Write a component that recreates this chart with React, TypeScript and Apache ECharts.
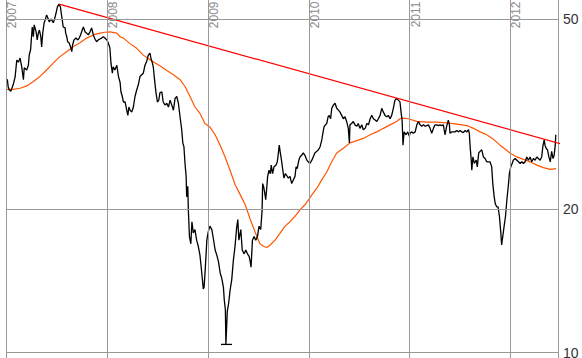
import React, { useEffect, useRef } from "react";
import * as echarts from "echarts";

// Day offsets are counted from 2007-01-01
const START = Date.UTC(2007, 0, 1);
const DAY = 86400000;
const AXIS_END_DAY = 1998;

const yearLabels = ["2007", "2008", "2009", "2010", "2011", "2012"];
const priceLevels = [50, 20, 10];

const priceDays = [
  0, 5, 8, 12, 18, 22, 26, 33, 39, 45,
  51, 57, 63, 66, 75, 81, 84, 89, 95, 99,
  102, 109, 113, 117, 121, 126, 129, 133, 138, 142,
  147, 153, 157, 162, 167, 171, 175, 181, 186, 192,
  197, 200, 205, 207, 214, 216, 220, 223, 228, 234,
  238, 241, 246, 253, 260, 265, 270, 276, 280, 286,
  292, 298, 304, 310, 316, 322, 328, 334, 340, 346,
  352, 358, 365, 370, 376,
  380, 385, 388, 394, 401, 407, 413, 416, 421, 425,
  431, 437, 441, 445, 449, 455, 461, 467, 473, 479,
  485, 491, 497, 503, 509, 515, 521, 525, 530, 533,
  539, 543, 548, 553, 557, 564, 569, 576, 582, 588,
  594, 600, 606, 612, 618, 624, 630, 636, 640, 644,
  648, 652, 654, 658, 660, 664, 669, 673, 678, 684,
  690, 696, 702, 706, 711, 714, 717, 721, 727, 732,
  738,
  745, 750, 757, 763, 769, 775, 781, 787, 790, 794,
  796, 801, 806, 811, 817, 823, 829, 835, 839, 843,
  850, 855, 862, 868, 874, 880, 884, 887, 892, 898,
  904, 910, 916, 922, 927, 929, 933, 937, 940, 944,
  947, 952, 957, 960, 965, 970, 977, 982, 986, 989,
  993, 998, 1002, 1006, 1011, 1016, 1022, 1028, 1034, 1040,
  1046, 1050, 1054, 1060, 1064, 1070, 1076, 1082, 1089, 1094,
  1100,
  1107, 1112, 1118, 1125, 1131, 1137, 1143, 1146, 1151, 1156,
  1161, 1166, 1170, 1175, 1179, 1185, 1191, 1197, 1203, 1209,
  1215, 1221, 1227, 1233, 1239, 1243, 1245, 1251, 1257, 1263,
  1270, 1275, 1281, 1288, 1293, 1300, 1306, 1312, 1318, 1324,
  1330, 1336, 1342, 1348, 1354, 1360, 1366, 1372, 1378, 1384,
  1390, 1396, 1402, 1408, 1414, 1420, 1426, 1430, 1434, 1437,
  1441, 1448, 1454, 1460,
  1462, 1469, 1474, 1481, 1487, 1493, 1499, 1505, 1511, 1517,
  1523, 1529, 1535, 1541, 1547, 1553, 1559, 1565, 1571, 1577,
  1583, 1589, 1595, 1601, 1605, 1607, 1613, 1619, 1625, 1632,
  1637, 1643, 1650, 1655, 1662, 1668, 1674, 1677, 1680, 1684,
  1686, 1690, 1695, 1702, 1706, 1711, 1716, 1722, 1728, 1734,
  1740, 1746, 1752, 1758, 1762, 1767, 1771, 1776, 1781, 1786,
  1791, 1794, 1798, 1803, 1808, 1813, 1818, 1822, 1827,
  1832, 1836, 1843, 1849, 1855, 1861, 1867, 1873, 1879, 1885,
  1891, 1897, 1903, 1909, 1915, 1921, 1927, 1933, 1939, 1943,
  1948, 1951, 1955, 1960, 1965, 1970, 1975, 1980, 1984, 1988,
  1990,
];

const prices = [
  37.3, 37.3, 36.0, 35.5, 35.3, 35.9, 36.4, 37.8, 41.0, 40.6,
  41.4, 39.7, 37.3, 39.5, 39.1, 40.0, 42.0, 43.1, 48.1, 45.9,
  48.6, 47.0, 45.2, 46.7, 47.4, 45.9, 43.7, 46.7, 49.1, 49.8,
  51.0, 50.0, 49.3, 50.0, 49.6, 49.1, 49.8, 51.4, 53.0, 53.7,
  53.0, 51.4, 49.1, 48.1, 47.9, 46.7, 45.9, 44.8, 44.6, 43.7,
  42.7, 44.1, 45.2, 45.6, 45.2, 45.6, 46.3, 47.4, 48.1, 47.0,
  46.7, 46.3, 47.0, 47.9, 46.3, 45.4, 44.8, 45.2, 45.4, 45.6,
  45.9, 45.6, 45.2, 44.6, 43.5,
  40.4, 38.5, 39.7, 39.1, 40.0, 37.9, 36.8, 35.2, 34.4, 33.5,
  33.5, 32.2, 31.4, 32.7, 32.2, 31.9, 32.7, 34.4, 35.5, 36.4,
  37.9, 38.2, 38.5, 40.0, 40.7, 42.0, 42.4, 41.3, 40.4, 39.7,
  36.7, 35.0, 33.5, 33.8, 35.0, 35.2, 33.5, 33.0, 33.3, 32.7,
  33.8, 33.0, 32.2, 34.1, 34.4, 33.3, 31.2, 29.3, 27.5, 27.0,
  24.9, 23.4, 21.2, 22.3, 19.9, 17.5, 16.9, 18.8, 17.8, 18.1,
  17.2, 16.7, 16.0, 15.2, 14.2, 13.6, 13.7, 14.9, 17.2, 17.9,
  18.4,
  18.1, 17.4, 16.4, 16.0, 15.5, 14.7, 14.3, 13.7, 12.9, 12.3,
  10.4, 12.2, 12.7, 13.5, 14.2, 15.6, 16.7, 18.3, 19.0, 17.2,
  18.1, 16.4, 16.1, 16.4, 16.1, 15.9, 15.5, 15.1, 17.2, 17.5,
  17.2, 17.5, 18.4, 18.1, 19.9, 22.6, 22.2, 21.5, 20.9, 22.2,
  23.4, 24.1, 23.7, 24.7, 23.7, 24.5, 24.7, 25.1, 26.2, 27.2,
  26.2, 25.1, 24.1, 23.2, 23.7, 23.5, 23.2, 23.4, 22.6, 23.0,
  23.4, 24.5, 24.3, 25.3, 25.7, 25.9, 26.2, 25.9, 25.3, 25.1,
  24.9,
  25.3, 25.7, 26.2, 26.4, 26.6, 27.0, 27.9, 28.6, 29.7, 30.0,
  30.2, 31.2, 31.4, 30.9, 32.5, 33.0, 33.3, 32.5, 32.2, 31.9,
  31.4, 30.9, 31.2, 30.5, 29.5, 27.5, 30.0, 30.2, 30.5, 30.0,
  29.8, 30.2, 29.5, 30.0, 29.3, 29.5, 30.2, 30.0, 30.9, 31.4,
  30.9, 30.7, 30.5, 30.9, 31.4, 32.5, 31.9, 31.4, 31.2, 31.4,
  30.9, 31.4, 32.5, 33.8, 34.1, 33.8, 33.5, 31.9, 30.5, 27.2,
  29.0, 28.6, 29.0, 28.4,
  28.8, 29.0, 28.8, 29.0, 30.0, 30.5, 30.0, 29.8, 30.0, 29.8,
  29.9, 30.0, 29.5, 28.8, 29.5, 30.0, 30.0, 29.9, 30.0, 29.9,
  30.0, 28.6, 29.8, 30.7, 30.0, 28.8, 29.0, 29.0, 29.0, 29.2,
  29.0, 29.2, 29.0, 28.9, 29.2, 29.0, 29.3, 28.8, 27.0, 25.3,
  24.1, 25.7, 24.9, 25.3, 24.5, 26.2, 26.4, 26.6, 25.7, 25.5,
  25.1, 25.1, 25.1, 24.5, 22.6, 21.2, 20.5, 20.2, 20.2, 19.3,
  17.8, 16.8, 17.5, 18.4, 19.3, 20.9, 22.3, 23.7, 24.5,
  24.9, 25.3, 25.5, 25.3, 25.1, 24.9, 25.1, 24.9, 25.1, 25.7,
  25.3, 25.7, 25.1, 25.5, 25.3, 25.7, 25.5, 25.3, 25.7, 27.0,
  27.9, 27.2, 26.8, 26.6, 25.7, 25.1, 26.4, 25.5, 25.9, 27.2,
  28.6,
];

const maDays = [
  0, 26, 51, 75, 99, 123, 147, 171, 195, 220,
  244, 268, 292, 316, 340, 358, 376, 401, 413, 425,
  449, 473, 497, 515, 533, 557, 582, 606, 630, 648,
  666, 684, 702, 720, 738, 757, 775, 793, 811, 829,
  848, 866, 883, 895, 908, 919, 932, 944, 956, 974,
  992, 1010, 1028, 1046, 1064, 1082, 1100, 1107, 1125, 1143,
  1161, 1179, 1197, 1221, 1245, 1270, 1293, 1318, 1342, 1366,
  1390, 1414, 1426, 1438, 1456, 1487, 1523, 1559, 1595, 1632,
  1668, 1692, 1716, 1740, 1764, 1788, 1806, 1824, 1849, 1873,
  1897, 1921, 1945, 1970, 1991,
];

const maValues = [
  35.6, 35.6, 35.8, 36.2, 37.0, 37.9, 39.1, 40.4, 41.7, 42.7,
  43.8, 44.6, 45.6, 46.3, 46.7, 46.9, 47.0, 46.7, 45.9, 45.6,
  44.4, 43.4, 42.0, 41.3, 40.7, 39.9, 39.0, 38.2, 37.3, 36.1,
  34.4, 32.7, 31.7, 30.2, 29.7, 28.6, 27.2, 25.7, 24.1, 22.5,
  21.4, 20.4, 19.1, 18.3, 17.5, 16.9, 16.7, 16.6, 16.8, 17.2,
  17.8, 18.4, 18.8, 19.3, 19.9, 20.4, 21.1, 21.4, 22.1, 23.0,
  23.9, 25.1, 26.2, 26.8, 27.5, 27.8, 28.1, 28.6, 29.0, 29.5,
  30.0, 30.5, 30.9, 31.0, 30.9, 30.5, 30.4, 30.4, 30.3, 30.1,
  29.9, 29.5, 29.0, 28.6, 28.0, 27.2, 26.7, 26.2, 25.7, 25.4,
  25.1, 24.7, 24.4, 24.2, 24.3,
];

const trendDays = [192, 2085];
const trendValues = [53.7, 26.6];

const lowDays = [778, 818];
const lowValues = [10.4, 10.4];

const Y_MIN = 9.74;
const Y_MAX = 54.8;

const toTime = (d: number) => START + d * DAY;
const pairs = (ds: number[], vs: number[]) => ds.map((d, i) => [toTime(d), vs[i]]);

const FONT = "'Liberation Sans', Arial, Helvetica, sans-serif";
const GRID = "#999999";

export default function App() {
  const ref = useRef<HTMLDivElement>(null);

  useEffect(() => {
    document.body.style.margin = "0";
    const chart = echarts.init(ref.current!, null, { renderer: "svg" });
    chart.setOption({
      animation: false,
      grid: { left: 6, right: 24, top: 0, bottom: 0 },
      xAxis: {
        type: "time",
        min: toTime(0),
        max: toTime(AXIS_END_DAY),
        axisLine: { show: false },
        axisTick: { show: false },
        axisLabel: { show: false },
        splitLine: { show: false },
      },
      yAxis: {
        type: "log",
        logBase: 10,
        min: Y_MIN,
        max: Y_MAX,
        position: "right",
        axisLine: { show: true, lineStyle: { color: GRID, width: 1 } },
        axisTick: { show: false },
        axisLabel: { show: false },
        splitLine: { show: false },
      },
      series: [
        {
          type: "line",
          name: "grid",
          data: [],
          z: 1,
          silent: true,
          markLine: {
            silent: true,
            symbol: ["none", "none"],
            lineStyle: { color: GRID, width: 1, type: "solid" },
            emphasis: { disabled: true },
            label: {
              show: true,
              position: "insideEndBottom",
              distance: [1.5, 0],
              color: "#8c8c8c",
              fontSize: 12,
              lineHeight: 12,
              fontFamily: FONT,
            },
            data: [
              ...yearLabels.map((y) => ({
                xAxis: Date.UTC(Number(y), 0, 1),
                label: { formatter: y },
              })),
              ...priceLevels.map((v) => ({
                yAxis: v,
                label: {
                  position: "end",
                  formatter: String(v),
                  color: "#333333",
                  fontSize: 14,
                  lineHeight: 12,
                  distance: 5,
                },
              })),
            ],
          },
        },
        {
          type: "line",
          name: "MA",
          data: pairs(maDays, maValues),
          showSymbol: false,
          symbol: "none",
          z: 2,
          lineStyle: { color: "#ff5500", width: 1.2 },
        },
        {
          type: "line",
          name: "Price",
          data: pairs(priceDays, prices),
          showSymbol: false,
          symbol: "none",
          z: 3,
          lineStyle: { color: "#000000", width: 1.3 },
        },
        {
          type: "line",
          name: "Low",
          data: pairs(lowDays, lowValues),
          showSymbol: false,
          symbol: "none",
          z: 3,
          lineStyle: { color: "#000000", width: 1.3 },
        },
        {
          type: "line",
          name: "Trend",
          data: pairs(trendDays, trendValues),
          showSymbol: false,
          symbol: "none",
          clip: false,
          z: 4,
          lineStyle: { color: "#ff0000", width: 1.2 },
        },
      ],
    });
    return () => chart.dispose();
  }, []);

  return (
    <div
      ref={ref}
      style={{ position: "absolute", left: 0, top: 0, width: 582, height: 358 }}
    />
  );
}
